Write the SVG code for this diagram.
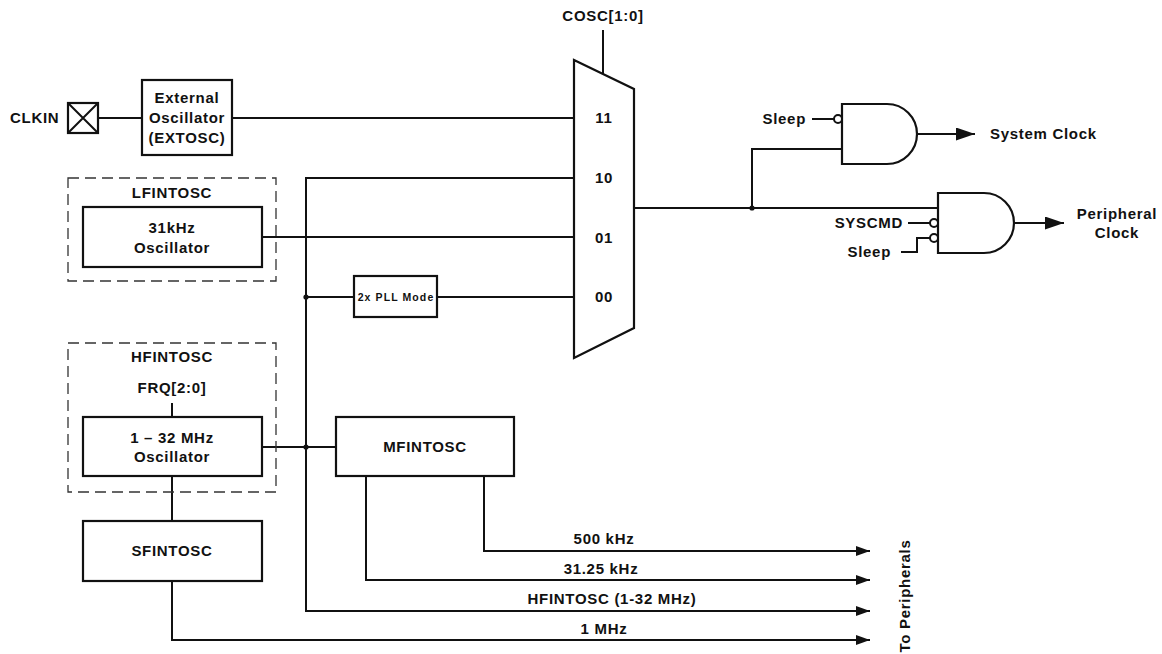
<svg xmlns="http://www.w3.org/2000/svg" width="1162" height="654" viewBox="0 0 1162 654">
<style>
text{font-family:"Liberation Sans",Arial,sans-serif;font-weight:bold;font-size:15px;letter-spacing:0.7px;fill:#111}
.m{text-anchor:middle}
.e{text-anchor:end}
.box{fill:#fff;stroke:#111;stroke-width:2.2}
.dash{fill:none;stroke:#333;stroke-width:1.3;stroke-dasharray:11 6}
.w{fill:none;stroke:#111;stroke-width:2}
.dot{fill:#111}
.sm{font-size:10.5px;letter-spacing:1.1px}
</style>
<defs>
<marker id="aBig" markerUnits="userSpaceOnUse" markerWidth="20" markerHeight="14" refX="19" refY="6.5" orient="auto"><path d="M0,0 L19,6.5 L0,13 Z" fill="#111"/></marker>
<marker id="aSm" markerUnits="userSpaceOnUse" markerWidth="15" markerHeight="11" refX="14" refY="5" orient="auto"><path d="M0,0 L14,5 L0,10 Z" fill="#111"/></marker>
</defs>
<g id="connectors">
<path class="w" d="M98,118 H142"/>
<path class="w" d="M232,118 H574"/>
<path class="w" d="M574,178 H306 V611 H870" marker-end="url(#aSm)"/>
<path class="w" d="M262,237 H574"/>
<path class="w" d="M306,297 H354"/>
<path class="w" d="M437,297 H574"/>
<path class="w" d="M262,447 H336"/>
<path class="w" d="M172,403 V417"/>
<path class="w" d="M172,476 V521"/>
<path class="w" d="M172,581 V640 H870" marker-end="url(#aSm)"/>
<path class="w" d="M366,476 V580 H870" marker-end="url(#aSm)"/>
<path class="w" d="M484,476 V551 H870" marker-end="url(#aSm)"/>
<path class="w" d="M603,30 V74"/>
<path class="w" d="M634,208 H938"/>
<path class="w" d="M752,208 V149 H842"/>
<path class="w" d="M917,134 H975" marker-end="url(#aBig)"/>
<path class="w" d="M1014,223 H1064" marker-end="url(#aBig)"/>
<path class="w" d="M812,119 H834"/>
<path class="w" d="M908,223 H930"/>
<path class="w" d="M901,252 H917 V238 H930"/>
<circle class="dot" cx="752" cy="208" r="2.6"/>
<circle class="dot" cx="306" cy="297" r="2.6"/>
<circle class="dot" cx="306" cy="447" r="2.6"/>
</g>
<g id="clkin">
<rect class="box" x="68" y="103" width="30" height="30"/>
<path class="w" d="M68,103 L98,133 M98,103 L68,133"/>
<text x="10" y="123">CLKIN</text>
</g>
<g id="extosc">
<rect class="box" x="142" y="80" width="90" height="75"/>
<text class="m" x="187" y="103">External</text>
<text class="m" x="187" y="123">Oscillator</text>
<text class="m" x="187" y="143">(EXTOSC)</text>
</g>
<g id="lfintosc">
<rect class="dash" x="68" y="178" width="208" height="103"/>
<text class="m" x="172" y="198">LFINTOSC</text>
<rect class="box" x="83" y="207" width="179" height="60"/>
<text class="m" x="172" y="233">31kHz</text>
<text class="m" x="172" y="253">Oscillator</text>
</g>
<g id="pll">
<rect class="box" x="354" y="276" width="83" height="41"/>
<text class="m sm" x="396" y="301">2x PLL Mode</text>
</g>
<g id="hfintosc">
<rect class="dash" x="68" y="343" width="208" height="149"/>
<text class="m" x="172" y="362">HFINTOSC</text>
<text class="m" x="172" y="393">FRQ[2:0]</text>
<rect class="box" x="83" y="417" width="179" height="59"/>
<text class="m" x="172" y="443">1 – 32 MHz</text>
<text class="m" x="172" y="462">Oscillator</text>
</g>
<g id="mfintosc">
<rect class="box" x="336" y="417" width="178" height="59"/>
<text class="m" x="425" y="452">MFINTOSC</text>
</g>
<g id="sfintosc">
<rect class="box" x="83" y="521" width="179" height="60"/>
<text class="m" x="172" y="556">SFINTOSC</text>
</g>
<g id="mux">
<polygon class="box" points="574,60 634,89 634,328 574,358"/>
<text class="m" x="603" y="21">COSC[1:0]</text>
<text class="m" x="604" y="123">11</text>
<text class="m" x="604" y="183">10</text>
<text class="m" x="604" y="243">01</text>
<text class="m" x="604" y="302">00</text>
</g>
<g id="and-system">
<path class="box" d="M842,104 H887 A30,30 0 0 1 887,164 H842 Z"/>
<circle class="box" cx="838" cy="119" r="4" style="stroke-width:2"/>
<text class="e" x="806" y="124">Sleep</text>
<text x="990" y="139">System Clock</text>
</g>
<g id="and-peripheral">
<path class="box" d="M938,193 H984 A30,30 0 0 1 984,253 H938 Z"/>
<circle class="box" cx="934" cy="223" r="4" style="stroke-width:2"/>
<circle class="box" cx="934" cy="238" r="4" style="stroke-width:2"/>
<text class="e" x="903" y="228">SYSCMD</text>
<text class="e" x="891" y="257">Sleep</text>
<text class="m" x="1117" y="219">Peripheral</text>
<text class="m" x="1117" y="238">Clock</text>
</g>
<g id="labels">
<text class="m" x="604" y="544">500 kHz</text>
<text class="m" x="601" y="574">31.25 kHz</text>
<text class="m" x="612" y="604">HFINTOSC (1-32 MHz)</text>
<text class="m" x="604" y="634">1 MHz</text>
<text class="m" transform="translate(910,596) rotate(-90)">To Peripherals</text>
</g>
</svg>
